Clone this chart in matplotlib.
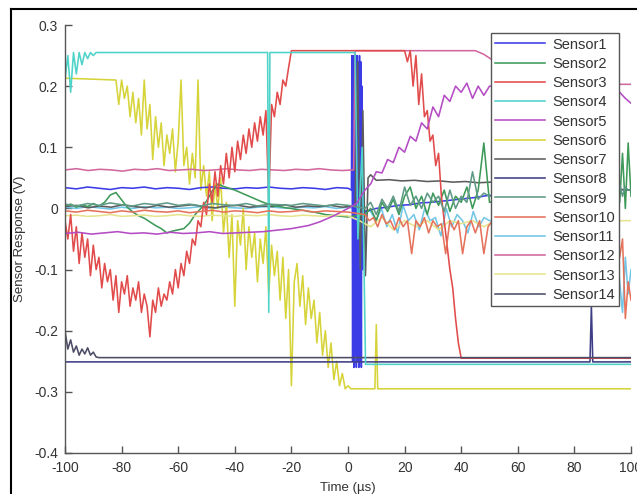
import numpy as np
import matplotlib
matplotlib.use("Agg")
import matplotlib.pyplot as plt
from matplotlib.lines import Line2D

# ---------------- data ----------------
names = ["Sensor%d" % i for i in range(1, 15)]
colors = ["#3c3ce6", "#3f9a5a", "#e24b4b", "#4fd3c8", "#b44cc4", "#d6d43a",
          "#5c5c5c", "#3e3e86", "#5f9a86", "#e5735c", "#72c6e6", "#d2689e",
          "#e6e48e", "#4c4c66"]

x_ticks = [-100, -80, -60, -40, -20, 0, 20, 40, 60, 80, 100]
y_ticks = [-0.4, -0.3, -0.2, -0.1, 0, 0.1, 0.2, 0.3]

# Sensor1 (blue): flat, burst near 3 us, slow rise afterwards
s1_pre = [0.034, 0.032, 0.035, 0.033, 0.031, 0.034, 0.033, 0.035, 0.032, 0.034, 0.033,
          0.031, 0.034, 0.035, 0.033, 0.032, 0.034, 0.033, 0.035, 0.033, 0.032, 0.034,
          0.033, 0.031, 0.034, 0.033]
s1_burst = [0.03, 0.25, -0.25, 0.25, -0.26, 0.25, -0.24, 0.25, -0.26, 0.25, -0.25,
            0.24, -0.26, 0.25, -0.25, 0.24, -0.26, 0.2, -0.1, 0.05, -0.02]
s1_post = [-0.005, 0.0, 0.002, 0.005, 0.006, 0.009, 0.01, 0.012, 0.014, 0.016, 0.018,
           0.021, 0.022, 0.024, 0.025, 0.026, 0.027, 0.028, 0.029, 0.028, 0.03, 0.029,
           0.03, 0.031, 0.03]

# Sensor2 (green)
s2_pre = [0.004, 0.007, 0.002, 0.006, 0.003, 0.008, 0.004, 0.01, 0.022, 0.026, 0.014,
          0.002, -0.006, -0.012, -0.016, -0.022, -0.028, -0.033, -0.04, -0.037, -0.035,
          -0.033, -0.024, -0.01, 0.0, 0.012, 0.028, 0.04, 0.036, 0.033, 0.03, 0.026,
          0.022, 0.018, 0.014, 0.01, 0.007, 0.004, 0.003, 0.001, 0.0, -0.002, -0.003,
          -0.005, -0.006, -0.008, -0.01, -0.011, -0.012, -0.013, -0.014]
s2_post = [-0.01, 0.0, -0.02, 0.01, -0.005, 0.015, -0.01, 0.02, 0.035, 0.0, 0.02, -0.01,
           0.025, 0.005, 0.03, -0.005, 0.02, 0.01, 0.035, 0.0, 0.03, 0.107, 0.01]
s2_mid = [0.015, 0.02, 0.01, 0.025, 0.015, 0.02]
s2_end = [0.02, 0.05, 0.01, 0.09, 0.0, 0.107, 0.02]

# Sensor3 (red)
s3_a = [-0.02, -0.05, -0.01, -0.07, -0.03, -0.09, -0.04, -0.08, -0.05, -0.11, -0.06,
        -0.10, -0.08, -0.13, -0.09, -0.12, -0.10, -0.15, -0.11, -0.17, -0.12, -0.14,
        -0.11, -0.16, -0.13, -0.15, -0.12, -0.17, -0.14, -0.16, -0.21, -0.15, -0.17,
        -0.13, -0.16, -0.14, -0.15, -0.12, -0.14, -0.10, -0.13, -0.09, -0.11, -0.07,
        -0.09, -0.05, -0.06, -0.02, -0.03, 0.01, -0.01, 0.04, 0.01, 0.06, 0.02, 0.07,
        0.04, 0.09, 0.05, 0.10, 0.06, 0.11, 0.08, 0.12, 0.09, 0.13, 0.10, 0.14, 0.11,
        0.15, 0.12, 0.16, 0.01, 0.17, 0.15, 0.19, 0.17, 0.21, 0.20, 0.23, 0.258]
s3_b = [0.258, 0.24, 0.258, 0.20, 0.25, 0.17, 0.22, 0.15, 0.16, 0.11, 0.12, 0.07, 0.09,
        0.02, -0.02, -0.06, -0.10, -0.13, -0.18, -0.22, -0.245]
s3_end = -0.245

# Sensor4 (cyan): saturated high, then saturated low
s4_a = [0.21, 0.25, 0.19, 0.255, 0.22, 0.255, 0.235, 0.255, 0.245, 0.255, 0.25, 0.255]
s4_high = 0.255
s4_spike = -0.17
s4_low = -0.255

# Sensor5 (magenta)
s5_pre = [-0.041, -0.039, -0.042, -0.040, -0.038, -0.041, -0.040, -0.042, -0.039,
          -0.041, -0.040, -0.038, -0.041, -0.040, -0.039]
s5_t = [-30, -20, -14, -10, -5, 0, 3, 6, 8, 10, 12, 14, 16, 18, 20, 22, 24, 26, 28, 30,
        32, 34, 36, 38, 40, 42, 44, 46, 48, 50, 55, 94, 96, 98, 100]
s5_v = [-0.038, -0.033, -0.028, -0.022, -0.012, 0.0, 0.008, 0.03, 0.04, 0.06, 0.058,
        0.08, 0.075, 0.1, 0.092, 0.118, 0.11, 0.14, 0.13, 0.166, 0.15, 0.185, 0.175,
        0.2, 0.19, 0.205, 0.18, 0.2, 0.185, 0.2, 0.2, 0.197, 0.19, 0.18, 0.172]

# Sensor6 (yellow)
s6_flat = 0.213
s6_a = [0.21, 0.17, 0.21, 0.18, 0.20, 0.15, 0.19, 0.14, 0.18, 0.12, 0.21, 0.13, 0.17,
        0.08, 0.15, 0.10, 0.14, 0.07, 0.12, 0.09, 0.13, 0.06, 0.11, 0.21, 0.07, 0.10,
        0.04, 0.09, 0.05, 0.21, 0.03, 0.07, 0.02, 0.06, -0.02, 0.04, 0.00, 0.05, -0.04,
        0.01, -0.08, -0.01, -0.16, -0.02, -0.06, 0.00, -0.10, -0.03, -0.08, -0.04,
        -0.12, -0.05, -0.09, -0.03, -0.14, -0.06, -0.11, -0.07, -0.15, -0.08, -0.18,
        -0.10, -0.29, -0.12, -0.09, -0.16, -0.11, -0.19, -0.13, -0.18, -0.15, -0.22,
        -0.17, -0.24, -0.20, -0.26, -0.22, -0.28, -0.25, -0.29, -0.27, -0.295, -0.29,
        -0.295]
s6_low = -0.295
s6_spike = -0.19

# Sensor7 (gray)
s7_pre = [0.003, 0.005, 0.001, 0.004, 0.002, 0.006, 0.003, 0.001, 0.005, 0.002, 0.004,
          0.006, 0.003, 0.001, 0.004, 0.005, 0.002, 0.004, 0.003, 0.006, 0.002, 0.004,
          0.003, 0.005, 0.002, 0.004]
s7_burst = [0.004, 0.24, -0.1, 0.16, -0.11, 0.05, 0.055]
s7_post = [0.046, 0.047, 0.045, 0.046, 0.044, 0.045, 0.043, 0.044, 0.042, 0.043, 0.041,
           0.040, 0.039, 0.038, 0.036, 0.035, 0.034, 0.033, 0.032, 0.031, 0.03]

# Sensor8 (navy): flat low with a spike near 86 us
s8_t = [-100, 85.5, 86, 86.5, 100]
s8_v = [-0.251, -0.251, -0.16, -0.251, -0.251]

# Sensor9 (green-gray)
s9_pre = [0.007, 0.004, 0.008, 0.005, 0.009, 0.006, 0.004, 0.008, 0.006, 0.009, 0.005,
          0.007, 0.004, 0.008, 0.006, 0.005, 0.008, 0.004, 0.007, 0.006, 0.005, 0.008,
          0.006, 0.004, 0.007, 0.005]
s9_post = [0.0, 0.01, -0.01, 0.015, 0.0, 0.02, -0.005, 0.035, 0.005, 0.02, 0.0, 0.025,
           0.01, 0.02, -0.005, 0.03, 0.0, 0.02, 0.01, 0.06, 0.015, 0.025, 0.02]
s9_end = [0.03, 0.01, 0.04, 0.02, 0.035, 0.03, 0.03]

# Sensor10 (salmon red)
s10_pre = [-0.004, -0.006, -0.003, -0.005, -0.007, -0.004, -0.006, -0.003, -0.005,
           -0.006, -0.004, -0.007, -0.005, -0.003, -0.006, -0.004, -0.005, -0.007,
           -0.004, -0.006, -0.005, -0.003, -0.006, -0.004, -0.005, -0.006]
s10_post = [-0.01, -0.02, -0.015, -0.03, -0.01, -0.025, -0.02, -0.035, -0.015, -0.03,
            -0.02, -0.074, -0.02, -0.03, -0.015, -0.04, -0.02, -0.03, -0.025, -0.074,
            -0.02, -0.035, -0.02, -0.074, -0.03, -0.02, -0.04, -0.02, -0.074, -0.03,
            -0.02]
s10_end = [-0.02, -0.03, -0.08, -0.05, -0.18, -0.12, -0.15]

# Sensor11 (light cyan)
s11_pre = [0.002, 0.0, 0.003, 0.001, -0.001, 0.002, 0.0, 0.003, 0.001, 0.002, 0.0,
           0.001, 0.003, 0.0, 0.002, 0.001, 0.0, 0.002, 0.003, 0.001, 0.0, 0.002,
           0.001, 0.003, 0.0, 0.002]
s11_post = [-0.005, -0.02, 0.0, -0.03, -0.01, -0.04, 0.005, -0.02, -0.01, -0.035, 0.0,
            -0.02, -0.015, -0.045, 0.0, -0.03, -0.01, -0.02, -0.04, -0.005, -0.03,
            -0.015, -0.02]
s11_end = [-0.02, -0.06, -0.12, -0.17, -0.08, -0.14, -0.1]

# Sensor12 (pink)
s12_pre = [0.063, 0.065, 0.062, 0.064, 0.063, 0.061, 0.064, 0.063, 0.065, 0.062, 0.063,
           0.064, 0.062, 0.063, 0.065, 0.063, 0.062, 0.064, 0.063, 0.062, 0.064, 0.063,
           0.065, 0.063, 0.062, 0.063]
s12_t = [2.5, 45, 48, 50, 53, 58, 62, 100]
s12_v = [0.258, 0.258, 0.252, 0.246, 0.236, 0.215, 0.203, 0.203]

# Sensor13 (light yellow)
s13_v = [-0.012, -0.011, -0.013, -0.012, -0.010, -0.013, -0.012, -0.011, -0.013,
         -0.012, -0.010, -0.012, -0.013, -0.011, -0.012, -0.013, -0.011, -0.012,
         -0.010, -0.012, -0.013, -0.011, -0.012, -0.013, -0.011, -0.012, -0.02,
         -0.03, -0.015, -0.035, -0.02, -0.03, -0.02, -0.035, -0.02, -0.025, -0.02,
         -0.03, -0.02, -0.02, -0.025, -0.02, -0.02, -0.02, -0.02, -0.02, -0.02,
         -0.02, -0.02, -0.02, -0.02]

# Sensor14 (dark slate)
s14_a = [-0.2, -0.23, -0.215, -0.235, -0.225, -0.24, -0.23, -0.238, -0.228, -0.24,
         -0.235, -0.243, -0.244]
s14_end = -0.244


def grid(a, b, vals):
    return np.linspace(a, b, len(vals))


series = {
    "Sensor1": (np.concatenate([grid(-100, 0, s1_pre), grid(1.2, 5.6, s1_burst),
                                grid(6, 100, s1_post)]),
                s1_pre + s1_burst + s1_post),
    "Sensor2": (np.concatenate([grid(-100, 0, s2_pre), grid(6, 50, s2_post),
                                grid(54, 92, s2_mid), grid(94, 100, s2_end)]),
                s2_pre + s2_post + s2_mid + s2_end),
    "Sensor3": (np.concatenate([grid(-100, -20, s3_a), grid(20, 40, s3_b), [100]]),
                s3_a + s3_b + [s3_end]),
    "Sensor4": (np.concatenate([grid(-100, -89, s4_a), [-28.4, -28.0, -27.6, 2.5, 3.5,
                                                        5.0, 6.2, 100]]),
                s4_a + [s4_high, s4_spike, s4_high, s4_high, -0.05, 0.1, s4_low, s4_low]),
    "Sensor5": (np.concatenate([grid(-100, -35, s5_pre), s5_t]), s5_pre + s5_v),
    "Sensor6": (np.concatenate([[-100], grid(-82, 1, s6_a), [9.5, 10, 10.5, 100]]),
                [s6_flat] + s6_a + [s6_low, s6_spike, s6_low, s6_low]),
    "Sensor7": (np.concatenate([grid(-100, 2, s7_pre), grid(2.5, 8, s7_burst),
                                grid(10, 100, s7_post)]),
                s7_pre + s7_burst + s7_post),
    "Sensor8": (np.array(s8_t), s8_v),
    "Sensor9": (np.concatenate([grid(-100, 0, s9_pre), grid(6, 50, s9_post),
                                grid(94, 100, s9_end)]),
                s9_pre + s9_post + s9_end),
    "Sensor10": (np.concatenate([grid(-100, 0, s10_pre), grid(6, 51, s10_post),
                                 grid(94, 100, s10_end)]),
                 s10_pre + s10_post + s10_end),
    "Sensor11": (np.concatenate([grid(-100, 0, s11_pre), grid(8, 50, s11_post),
                                 grid(94, 100, s11_end)]),
                 s11_pre + s11_post + s11_end),
    "Sensor12": (np.concatenate([grid(-100, 2, s12_pre), s12_t]), s12_pre + s12_v),
    "Sensor13": (grid(-100, 100, s13_v), s13_v),
    "Sensor14": (np.concatenate([grid(-100, -88, s14_a), [100]]), s14_a + [s14_end]),
}

# ---------------- figure ----------------
plt.rcParams["font.family"] = ["Liberation Sans", "DejaVu Sans"]
fig = plt.figure(figsize=(6.37, 4.94), dpi=100)
ax = fig.add_axes([65 / 637, 41 / 494, 566 / 637, 428 / 494])

order = ["Sensor13", "Sensor12", "Sensor5", "Sensor14", "Sensor8", "Sensor4", "Sensor11",
         "Sensor9", "Sensor7", "Sensor2", "Sensor10", "Sensor6", "Sensor3", "Sensor1"]
handles = {}
for name in order:
    i = names.index(name)
    t, v = series[name]
    (h,) = ax.plot(t, v, color=colors[i], lw=1.15, label=name, zorder=2 + (i % 5) * 0.1)
    handles[name] = h

ax.set_xlim(-100, 100)
ax.set_ylim(-0.4, 0.3)
ax.set_xticks(x_ticks)
ax.set_yticks(y_ticks)
ax.set_xticklabels([str(v) for v in x_ticks])
ax.set_yticklabels(["-0.4", "-0.3", "-0.2", "-0.1", "0", "0.1", "0.2", "0.3"])
for s in ["top", "right"]:
    ax.spines[s].set_visible(False)
for s in ["left", "bottom"]:
    ax.spines[s].set_color("#555555")
    ax.spines[s].set_linewidth(1.0)
ax.tick_params(direction="in", length=5, width=1, colors="#555555",
               labelcolor="#333333", labelsize=10)
ax.tick_params(axis="x", pad=6)
ax.tick_params(axis="y", pad=5)
ax.set_xlabel("Time (\u00b5s)", fontsize=9.5, color="#333333", labelpad=5)
ax.set_ylabel("Sensor Response (V)", fontsize=9.5, color="#333333", labelpad=6)

leg = ax.legend([handles[n] for n in names], names, loc="upper right",
                bbox_to_anchor=(0.979, 0.981), borderaxespad=0, fontsize=10.5,
                labelspacing=0.36, handlelength=3.4, handletextpad=0.5,
                fancybox=False, framealpha=1, edgecolor="#555555", borderpad=0.3)
leg.get_frame().set_linewidth(1.0)
for txt in leg.get_texts():
    txt.set_color("#333333")

# outer screenshot frame
fig.add_artist(Line2D([11 / 637, 1.0], [1 - 9 / 494, 1 - 9 / 494], color="black",
                      lw=1.5, transform=fig.transFigure))
fig.add_artist(Line2D([11 / 637, 11 / 637], [0, 1 - 9 / 494], color="black",
                      lw=1.5, transform=fig.transFigure))

fig.savefig("out.png", dpi=100)
